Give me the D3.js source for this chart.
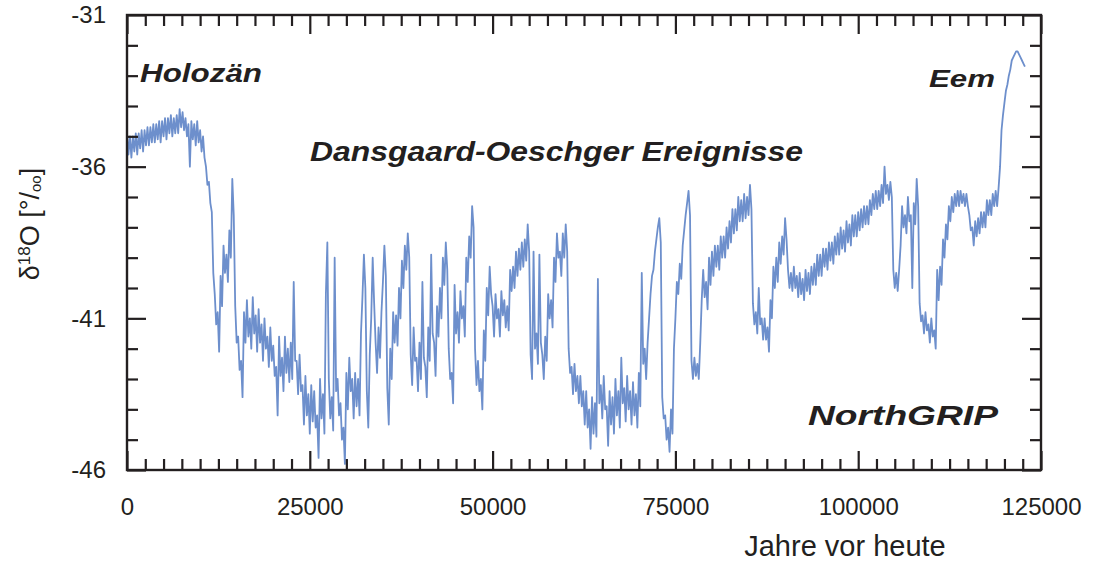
<!DOCTYPE html>
<html>
<head>
<meta charset="utf-8">
<script src="https://cdn.jsdelivr.net/npm/d3@7"></script>
<style>
body { margin: 0; background: #fff; }
text { font-family: "Liberation Sans", Arial, Helvetica, sans-serif; fill: #231f20; }
</style>
</head>
<body>
<div id="chart"></div>
<script>
// NorthGRIP d18O record, one value every 200 years from today
var startYear = 0;
var stepYears = 200;
var d18O = [
    -34.9, -35.6, -35.0, -35.7, -35.0, -35.5, -34.9, -35.6, -34.9, -35.4, -34.8, -35.5, -34.8, -35.3, -34.7, -35.3, -34.7, -35.2, -34.6, -35.2,
    -34.6, -35.1, -34.5, -35.2, -34.5, -35.0, -34.4, -35.1, -34.4, -34.9, -34.3, -35.0, -34.4, -34.9, -34.3, -34.9, -34.1, -34.7, -34.2, -34.8,
    -34.4, -35.0, -34.6, -36.0, -34.5, -35.1, -34.6, -35.3, -34.5, -35.2, -34.8, -35.5, -35.0, -35.7, -36.0, -36.6, -36.5, -37.2, -37.5, -39.5,
    -40.2, -41.2, -40.8, -42.1, -39.6, -40.6, -38.6, -39.5, -38.9, -39.8, -38.1, -39.0, -36.4, -37.6, -40.6, -41.8, -41.6, -42.7, -42.4, -43.6,
    -40.8, -41.8, -40.4, -41.6, -41.0, -42.0, -40.3, -41.5, -40.9, -42.1, -40.7, -41.8, -41.2, -42.4, -41.0, -42.0, -41.6, -42.6, -41.3, -42.4,
    -41.9, -42.9, -42.6, -44.2, -41.6, -42.9, -42.3, -43.4, -41.6, -42.8, -42.0, -43.1, -41.8, -43.0, -39.8, -42.4, -42.4, -43.5, -42.2, -43.4,
    -43.2, -44.5, -42.9, -44.2, -43.5, -44.8, -43.2, -44.4, -43.4, -44.6, -44.2, -45.6, -43.0, -44.3, -43.5, -44.8, -40.2, -38.5, -43.0, -44.3,
    -43.6, -44.7, -39.0, -43.4, -43.0, -44.2, -43.8, -45.0, -44.6, -45.8, -42.8, -44.0, -42.3, -43.4, -43.0, -44.3, -42.8, -43.9, -43.0, -44.2,
    -41.5, -40.3, -38.9, -40.0, -43.4, -44.6, -42.2, -41.0, -39.0, -40.5, -41.8, -42.8, -41.3, -42.3, -40.8, -39.8, -38.6, -39.6, -43.3, -44.5,
    -42.0, -43.0, -40.8, -41.8, -40.9, -41.9, -40.0, -41.0, -39.1, -40.0, -38.6, -39.4, -38.2, -39.0, -42.2, -43.2, -41.3, -42.4, -42.3, -43.4,
    -41.8, -43.0, -39.8, -42.3, -42.6, -43.6, -41.3, -42.4, -38.9, -41.5, -41.8, -42.9, -40.6, -41.6, -40.0, -41.0, -39.0, -39.9, -38.5, -39.4,
    -42.0, -43.0, -42.8, -43.8, -39.9, -41.5, -40.8, -41.8, -40.1, -41.0, -40.6, -41.6, -39.0, -39.8, -38.3, -39.0, -37.3, -38.0, -42.0, -43.2,
    -42.4, -43.4, -43.0, -44.0, -41.4, -42.4, -40.0, -40.9, -39.3, -40.2, -40.6, -41.6, -40.2, -41.0, -40.7, -41.6, -40.1, -40.9, -40.4, -41.3,
    -40.6, -41.4, -39.4, -40.1, -39.3, -40.0, -38.8, -39.6, -38.7, -39.4, -38.5, -39.3, -38.4, -39.1, -37.9, -38.8, -42.2, -43.0, -38.8, -42.0,
    -41.5, -42.5, -38.9, -41.8, -42.2, -43.0, -41.6, -42.4, -40.2, -41.0, -40.4, -41.3, -39.0, -39.8, -38.2, -39.0, -38.8, -39.6, -38.2, -39.0,
    -37.9, -38.8, -42.0, -42.8, -42.6, -43.5, -42.5, -43.4, -42.9, -43.8, -42.9, -43.9, -43.4, -44.5, -43.4, -44.6, -44.0, -45.3, -43.6, -44.8,
    -43.8, -44.9, -39.7, -43.8, -43.2, -44.3, -42.9, -44.0, -43.9, -45.2, -43.4, -44.5, -43.6, -44.8, -43.0, -44.2, -43.4, -44.6, -42.3, -43.8,
    -43.3, -44.4, -42.9, -44.0, -43.4, -44.5, -43.1, -44.2, -43.5, -44.6, -42.8, -43.9, -39.5, -42.5, -42.0, -43.0, -41.8, -41.0, -40.2, -39.6,
    -39.4, -38.8, -38.4, -38.0, -37.7, -38.5, -43.6, -44.3, -44.2, -45.0, -44.6, -45.4, -44.0, -44.8, -42.0, -41.0, -39.8, -40.2, -39.2, -39.7,
    -38.6, -38.1, -37.6, -37.2, -36.8, -37.6, -42.4, -43.0, -42.3, -42.9, -42.5, -43.0, -41.8, -40.4, -39.4, -40.3, -39.8, -40.7, -39.0, -39.9,
    -38.8, -39.6, -38.6, -39.3, -38.6, -39.4, -38.3, -39.0, -38.3, -39.0, -38.0, -38.7, -37.8, -38.5, -37.4, -38.2, -37.4, -38.1, -37.0, -37.8,
    -37.1, -37.8, -36.9, -37.7, -37.0, -37.6, -36.6, -37.4, -40.5, -41.2, -40.8, -41.5, -40.0, -41.2, -41.0, -41.7, -41.0, -41.7, -41.3, -42.1,
    -40.4, -41.0, -39.3, -40.0, -39.0, -39.8, -38.5, -39.2, -38.3, -38.9, -37.7, -38.4, -39.4, -40.0, -39.5, -40.1, -39.3, -40.0, -39.6, -40.3,
    -39.5, -40.2, -39.7, -40.4, -39.4, -40.1, -39.5, -40.2, -39.3, -39.9, -39.2, -39.9, -38.9, -39.6, -38.9, -39.6, -38.7, -39.3, -38.7, -39.4,
    -38.5, -39.1, -38.5, -39.2, -38.3, -38.9, -38.2, -38.9, -38.0, -38.7, -38.1, -38.8, -37.8, -38.5, -37.9, -38.6, -37.6, -38.3, -37.6, -38.3,
    -37.5, -38.1, -37.4, -38.0, -37.3, -37.9, -37.3, -37.9, -37.1, -37.6, -36.9, -37.4, -36.8, -37.4, -36.8, -37.3, -36.6, -37.2, -36.0, -36.9,
    -36.6, -37.1, -36.5, -37.0, -39.4, -40.0, -39.5, -40.1, -39.4, -38.6, -37.3, -38.0, -37.6, -38.2, -37.0, -37.8, -37.6, -40.0, -37.2, -37.9,
    -36.4, -37.3, -40.5, -41.1, -40.9, -41.5, -40.8, -41.4, -41.2, -41.8, -41.0, -41.6, -41.4, -42.0, -39.4, -40.4, -39.3, -39.9, -38.4, -39.0,
    -37.9, -38.4, -37.3, -37.8, -37.0, -37.5, -36.9, -37.3, -36.8, -37.3, -36.8, -37.2, -36.9, -37.3, -36.9, -37.3, -37.6, -38.1, -38.0, -38.6,
    -37.8, -38.3, -37.7, -38.2, -37.5, -38.0, -37.5, -38.0, -37.1, -37.6, -37.1, -37.6, -36.9, -37.3, -36.8, -37.3, -36.7, -36.0, -34.8, -34.3,
    -33.9, -33.5, -33.3, -33.0, -32.8, -32.5, -32.4, -32.3, -32.2, -32.2, -32.3, -32.4, -32.5, -32.6, -32.7
];

var xTicks = [0, 25000, 50000, 75000, 100000, 125000];
var yTicks = [-31, -36, -41, -46];
var xMinorStep = 2500;
var yMinorStep = 1;

var chart_width = 1100;
var chart_height = 563;
var plot = { left: 127, right: 1041, top: 15, bottom: 470 };
var ink = '#231f20';
var lineColor = '#6d8fcc';

// create svg element
var svg = d3.select('#chart')
    .append('svg')
    .attr('width', chart_width)
    .attr('height', chart_height)
    .style('background', '#fff');

// create scales
var xScale = d3.scaleLinear()
    .domain([0, 125000])
    .range([plot.left, plot.right]);

var yScale = d3.scaleLinear()
    .domain([-46, -31])
    .range([plot.bottom, plot.top]);

var xMinor = d3.range(xScale.domain()[0], xScale.domain()[1] + 1, xMinorStep)
    .filter(function(v) { return xTicks.indexOf(v) < 0; });
var yMinor = d3.range(yScale.domain()[0], yScale.domain()[1] + 0.5, yMinorStep)
    .filter(function(v) { return yTicks.indexOf(v) < 0; });

// the record
var line = d3.line()
    .x(function(d, i) { return xScale(startYear + i * stepYears); })
    .y(function(d) { return yScale(d); });

svg.append('path')
    .datum(d18O)
    .attr('d', line)
    .attr('fill', 'none')
    .attr('stroke', lineColor)
    .attr('stroke-width', 1.8)
    .attr('stroke-linejoin', 'round');

// axes, all ticks pointing inward
function drawAxis(axis, tx, ty, fontSize) {
    var g = svg.append('g')
        .attr('transform', 'translate(' + tx + ',' + ty + ')')
        .call(axis);
    g.select('.domain').remove();
    g.selectAll('.tick line').attr('stroke', ink).attr('stroke-width', 2.2);
    g.selectAll('.tick text')
        .attr('fill', ink)
        .style('font-size', fontSize + 'px')
        .style('font-family', '"Liberation Sans", Arial, sans-serif');
    return g;
}

var fmt = function(d) { return String(d); };

drawAxis(d3.axisBottom(xScale).tickValues(xTicks).tickSizeInner(-19).tickSizeOuter(0)
    .tickPadding(28).tickFormat(fmt), 0, plot.bottom, 24);
drawAxis(d3.axisBottom(xScale).tickValues(xMinor).tickSizeInner(-11).tickSizeOuter(0)
    .tickFormat(''), 0, plot.bottom, 24);
drawAxis(d3.axisTop(xScale).tickValues(xTicks).tickSizeInner(-19).tickSizeOuter(0)
    .tickFormat(''), 0, plot.top, 24);
drawAxis(d3.axisTop(xScale).tickValues(xMinor).tickSizeInner(-11).tickSizeOuter(0)
    .tickFormat(''), 0, plot.top, 24);

drawAxis(d3.axisLeft(yScale).tickValues(yTicks).tickSizeInner(-19).tickSizeOuter(0)
    .tickPadding(21).tickFormat(fmt), plot.left, 0, 24);
drawAxis(d3.axisLeft(yScale).tickValues(yMinor).tickSizeInner(-11).tickSizeOuter(0)
    .tickFormat(''), plot.left, 0, 24);
drawAxis(d3.axisRight(yScale).tickValues(yTicks).tickSizeInner(-19).tickSizeOuter(0)
    .tickFormat(''), plot.right, 0, 24);
drawAxis(d3.axisRight(yScale).tickValues(yMinor).tickSizeInner(-11).tickSizeOuter(0)
    .tickFormat(''), plot.right, 0, 24);

// frame
svg.append('rect')
    .attr('x', plot.left)
    .attr('y', plot.top)
    .attr('width', plot.right - plot.left)
    .attr('height', plot.bottom - plot.top)
    .attr('fill', 'none')
    .attr('stroke', ink)
    .attr('stroke-width', 2.4);

// axis titles
svg.append('text')
    .attr('x', 845)
    .attr('y', 556)
    .attr('text-anchor', 'middle')
    .style('font-size', '29px')
    .text('Jahre vor heute');

var yTitle = svg.append('text')
    .attr('transform', 'translate(39,224) rotate(-90)')
    .attr('text-anchor', 'middle')
    .style('font-size', '27px');
yTitle.append('tspan').text('δ');
yTitle.append('tspan').attr('dy', -9).style('font-size', '17px').text('18');
yTitle.append('tspan').attr('dy', 9).text('O  [°/');
yTitle.append('tspan').attr('dy', 2).style('font-size', '15px').text('oo');
yTitle.append('tspan').attr('dy', -2).text(']');

// annotations
function note(label, x, y, size, len) {
    svg.append('text')
        .attr('x', x)
        .attr('y', y)
        .attr('textLength', len)
        .attr('lengthAdjust', 'spacingAndGlyphs')
        .style('font-size', size + 'px')
        .style('font-weight', 'bold')
        .style('font-style', 'italic')
        .text(label);
}

note('Holozän', 140, 82, 26, 122);
note('Dansgaard-Oeschger Ereignisse', 310, 161, 27, 493);
note('Eem', 929, 87, 24, 66);
note('NorthGRIP', 808, 425, 28, 190);
</script>
</body>
</html>
